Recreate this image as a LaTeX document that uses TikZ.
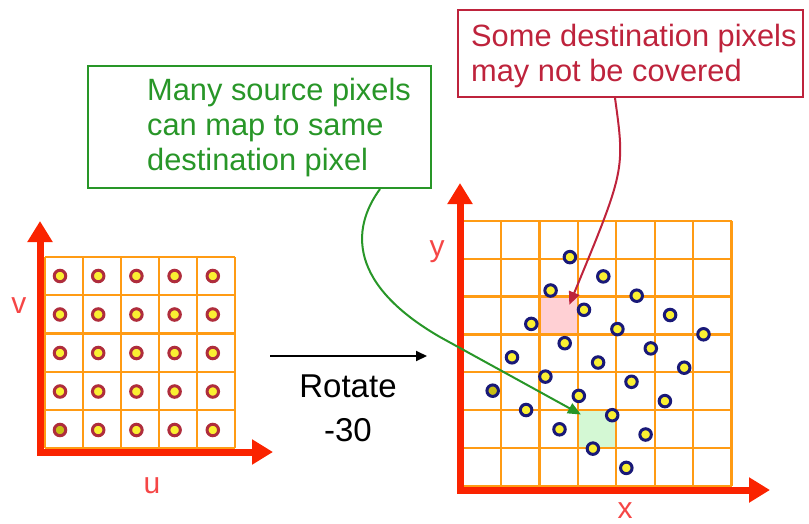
\documentclass[tikz,border=0pt]{standalone}
\usepackage{fontspec}
\setmainfont{Liberation Sans}
\usetikzlibrary{arrows.meta,calc}

\definecolor{gridorange}{RGB}{255,155,20}
\definecolor{axisred}{RGB}{250,35,0}
\definecolor{labelred}{RGB}{245,70,70}
\definecolor{dotyellow}{RGB}{250,240,50}
\definecolor{dotolive}{RGB}{200,190,20}
\definecolor{srcring}{RGB}{175,45,60}
\definecolor{dstring}{RGB}{25,25,120}
\definecolor{notered}{RGB}{190,35,60}
\definecolor{notegreen}{RGB}{40,150,40}
\definecolor{holefill}{RGB}{255,208,212}
\definecolor{hitfill}{RGB}{212,248,212}

\begin{document}
\begin{tikzpicture}[x=1pt,y=-1pt,
  gridline/.style={draw=gridorange, line width=2.2pt},
  axisline/.style={draw=axisred, line width=7pt, line join=miter,
    arrows={Triangle[length=21pt,width=24pt]-Triangle[length=21pt,width=24pt]}},
  axislabel/.style={text=labelred, font=\fontsize{30}{36}\selectfont, inner sep=0, anchor=base},
  srcdot/.style={circle, draw=srcring, fill=dotyellow, line width=3pt, minimum size=11.5pt, inner sep=0},
  dstdot/.style={circle, draw=dstring, fill=dotyellow, line width=3pt, minimum size=11.5pt, inner sep=0},
  cellmark/.style={rectangle, draw=none, minimum width=38.4pt, minimum height=37.9pt, inner sep=0},
  notebox/.style={rectangle, draw=#1, line width=2pt, inner sep=0},
  notetext/.style={text=#1, font=\fontsize{30.8}{35}\selectfont, align=left, inner sep=0, anchor=north west},
  pointer/.style={draw=#1, line width=2pt, -{Triangle[length=13pt,width=11pt]}}
]
\useasboundingbox (0,0) rectangle (809,523);

% ---------- source image: 5x5 pixel grid ----------
\foreach \k in {0,...,5} {
  \draw[gridline] (45+38*\k,257) -- (45+38*\k,448);
  \draw[gridline] (45,257+38.2*\k) -- (235,257+38.2*\k);
}
\coordinate (uvO) at (40,452);
\coordinate (vtip) at (40,221);
\coordinate (utip) at (273,452);
\draw[axisline] (vtip) -- (uvO) -- (utip);
\node[axislabel] (vlab) at (19,313) {v};
\node[axislabel] (ulab) at (152,493) {u};

\foreach \i in {0,...,4} \foreach \j in {0,...,4} {
  \ifnum\i\j=0 \def\dotfill{dotolive}\else\def\dotfill{dotyellow}\fi
  \node[srcdot, fill=\dotfill] (s\i\j) at ({60+38.2*\i},{430-38.5*\j}) {};
}

% ---------- destination image: 7x7 pixel grid ----------
\node[cellmark, fill=holefill, anchor=north west] (hole) at (538.5,296.8) {};
\node[cellmark, fill=hitfill, anchor=north west] (hit) at (576.9,410.5) {};
\foreach \k in {0,...,7} {
  \draw[gridline] (462.7+38.4*\k,220.7) -- (462.7+38.4*\k,486);
  \draw[gridline] (462.7,220.7+37.9*\k) -- (731.5,220.7+37.9*\k);
}
\coordinate (xyO) at (460,490);
\coordinate (ytip) at (460,183);
\coordinate (xtip) at (770,490);
\draw[axisline] (ytip) -- (xyO) -- (xtip);
\node[axislabel] (ylab) at (437,256) {y};
\node[axislabel] (xlab) at (625,518) {x};

% source samples after a -30 degree rotation
\foreach \i in {0,...,4} \foreach \j in {0,...,4} {
  \ifnum\i\j=0 \def\dotfill{dotolive}\else\def\dotfill{dotyellow}\fi
  \node[dstdot, fill=\dotfill] (d\i\j) at ({492.7+33.4*\i+19.3*\j},{390.7+19.3*\i-33.4*\j}) {};
}

% ---------- rotation step ----------
\coordinate (rotA) at (270,356);
\coordinate (rotB) at (427,356);
\draw[line width=2pt, -{Triangle[length=11pt,width=10pt]}] (rotA) -- (rotB);
\node[font=\fontsize{33}{44}\selectfont, align=center, anchor=north, inner sep=0] (rot) at (348,374.4) {Rotate\\-30};

% ---------- callouts ----------
\node[notebox=notegreen, minimum width=343pt, minimum height=122pt] (gbox) at (259.5,127) {};
\node[notetext=notegreen] (gtext) at (147,78) {Many source pixels\\can map to same\\destination pixel};
\node[notebox=notered, minimum width=345pt, minimum height=87pt] (rbox) at (630.5,53.5) {};
\node[notetext=notered] (rtext) at (471,24) {Some destination pixels\\may not be covered};

\draw[pointer=notegreen] ($(gbox.south west)+(293,0)$) .. controls (350,230) and (350,285) .. (440,337) -- ($(hit.north west)+(4,4)$);
\draw[pointer=notered] ($(rbox.south west)+(158,0)$) .. controls (625,170) .. ($(hole.north east)+(-8,8)$);
\end{tikzpicture}
\end{document}
